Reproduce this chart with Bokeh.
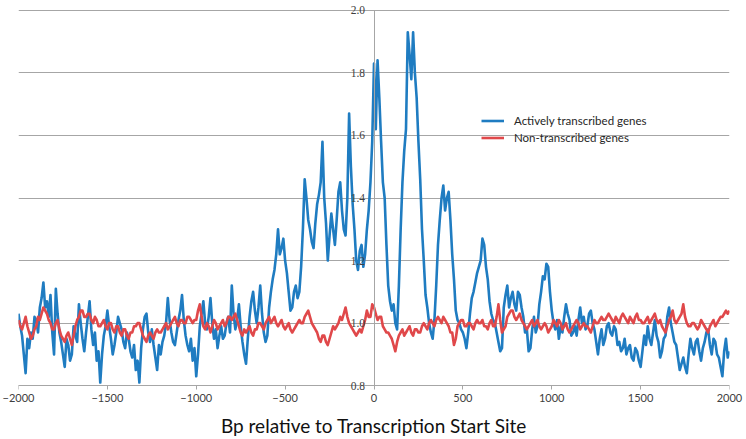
from bokeh.plotting import figure
from bokeh.models import Legend, LegendItem, Range1d, FixedTicker, LabelSet, ColumnDataSource, LinearAxis
from bokeh.embed import file_html
from bokeh.resources import INLINE

x_bp = list(range(-2000, 2001, 10))

active = [
    1.03, 0.99, 0.96, 0.90, 0.84, 0.95, 0.92, 0.97, 0.95, 1.02, 1.01, 0.97, 1.05, 1.08, 1.13, 1.05, 1.07, 1.02, 1.09, 0.97,
    0.90, 1.11, 1.03, 0.97, 0.94, 0.90, 0.86, 0.95, 0.93, 0.88, 0.90, 0.99, 0.96, 0.94, 1.06, 1.00, 0.95, 0.91, 0.97, 1.02,
    1.07, 0.98, 0.93, 0.97, 0.88, 0.91, 0.81, 0.90, 0.96, 0.99, 1.04, 0.99, 0.95, 0.90, 0.93, 0.97, 1.02, 1.00, 0.98, 0.94,
    0.92, 0.97, 0.95, 0.91, 0.89, 0.93, 0.85, 0.88, 0.81, 0.92, 0.98, 1.02, 1.03, 0.97, 0.94, 0.98, 0.93, 0.89, 0.85, 0.93,
    0.90, 0.94, 0.96, 1.00, 1.08, 1.01, 0.97, 0.94, 0.93, 0.97, 1.01, 1.04, 1.09, 1.01, 0.96, 0.93, 0.91, 0.95, 0.88, 0.92,
    0.83, 0.90, 0.99, 1.03, 1.07, 1.00, 0.98, 1.02, 1.08, 1.00, 0.95, 0.98, 0.92, 0.96, 0.99, 0.95, 0.96, 1.00, 1.02, 0.97,
    1.12, 1.03, 0.98, 1.01, 1.06, 0.99, 0.94, 0.90, 0.87, 0.95, 1.02, 1.07, 1.10, 1.04, 1.00, 1.05, 1.12, 1.03, 0.97, 0.94,
    0.96, 1.05, 1.10, 1.14, 1.17, 1.22, 1.30, 1.22, 1.24, 1.27, 1.20, 1.16, 1.10, 1.04, 1.05, 1.10, 1.12, 1.08, 1.10, 1.18,
    1.30, 1.46, 1.40, 1.33, 1.30, 1.26, 1.24, 1.32, 1.38, 1.41, 1.45, 1.58, 1.40, 1.32, 1.20, 1.28, 1.35, 1.30, 1.25, 1.33,
    1.42, 1.45, 1.36, 1.30, 1.28, 1.40, 1.67, 1.50, 1.38, 1.30, 1.20, 1.17, 1.23, 1.25, 1.18, 1.22, 1.30, 1.36, 1.45, 1.58,
    1.83, 1.62, 1.84, 1.72, 1.58, 1.45, 1.40, 1.25, 1.12, 1.07, 1.04, 1.06, 1.00, 0.98, 1.12, 1.30, 1.45, 1.55, 1.62, 1.93,
    1.86, 1.78, 1.93, 1.80, 1.72, 1.58, 1.46, 1.30, 1.20, 1.09, 1.05, 1.00, 0.97, 0.95, 1.01, 1.12, 1.25, 1.33, 1.40, 1.44,
    1.36, 1.40, 1.42, 1.33, 1.22, 1.14, 1.04, 1.01, 1.00, 0.98, 0.97, 0.95, 0.92, 0.97, 1.03, 1.08, 1.10, 1.13, 1.16, 1.18,
    1.20, 1.27, 1.25, 1.18, 1.14, 1.07, 1.03, 1.01, 1.00, 0.97, 0.94, 0.91, 0.92, 1.05, 1.09, 1.12, 1.05, 1.08, 1.10, 1.06,
    1.04, 1.10, 1.09, 1.05, 1.02, 0.97, 0.98, 0.91, 0.92, 0.98, 1.02, 0.97, 0.99, 1.06, 1.10, 1.15, 1.14, 1.19, 1.18, 1.10,
    1.04, 1.00, 0.98, 1.01, 0.95, 0.99, 0.97, 1.02, 1.06, 1.03, 1.01, 0.96, 0.97, 0.99, 0.96, 1.01, 1.05, 1.00, 1.02, 0.98,
    0.99, 1.03, 1.04, 1.00, 0.98, 0.94, 0.90, 0.95, 0.98, 0.93, 0.95, 0.99, 1.00, 0.97, 0.96, 0.99, 0.98, 0.93, 0.94, 0.91,
    0.92, 0.95, 0.90, 0.92, 0.93, 0.89, 0.88, 0.92, 0.91, 0.88, 0.86, 0.91, 0.96, 0.93, 0.99, 0.95, 0.93, 0.97, 1.01, 0.96,
    0.94, 0.89, 0.91, 0.95, 0.96, 1.02, 1.05, 1.00, 0.97, 0.94, 0.93, 0.89, 0.85, 0.87, 0.89, 0.86, 0.84, 0.90, 0.95, 0.92,
    0.90, 0.94, 0.95, 0.91, 0.88, 0.92, 0.94, 0.97, 0.98, 0.93, 0.90, 0.95, 0.94, 0.90, 0.89, 0.86, 0.83, 0.91, 0.95, 0.89,
    0.91,
]

non_transcribed = [
    1.01, 0.99, 0.98, 1.00, 1.02, 0.99, 0.97, 0.95, 0.96, 0.98, 0.99, 1.02, 1.01, 1.03, 1.05, 1.04, 1.03, 1.01, 1.00, 0.98,
    0.98, 1.00, 1.01, 0.98, 0.96, 0.95, 0.94, 0.96, 0.97, 0.95, 0.93, 0.96, 0.99, 1.01, 1.02, 1.04, 1.04, 1.02, 1.02, 1.03,
    1.03, 1.01, 1.00, 1.02, 1.01, 0.99, 0.99, 1.00, 1.01, 0.99, 0.98, 1.00, 1.00, 0.98, 0.97, 0.99, 0.99, 0.97, 0.96, 0.98,
    0.98, 0.96, 0.95, 0.97, 0.97, 0.99, 0.99, 1.00, 1.00, 0.98, 0.96, 0.95, 0.94, 0.96, 0.97, 0.96, 0.95, 0.97, 0.98, 0.97,
    0.97, 0.98, 0.99, 1.00, 0.98, 0.99, 1.00, 1.01, 1.02, 1.00, 0.99, 1.01, 1.01, 1.00, 1.00, 1.02, 1.02, 1.01, 1.00, 1.01,
    1.01, 1.04, 1.06, 1.02, 0.99, 0.98, 1.00, 0.99, 0.97, 0.99, 1.01, 1.00, 0.98, 0.99, 1.00, 1.01, 0.99, 1.00, 1.02, 1.02,
    1.01, 1.02, 1.03, 1.01, 0.99, 0.97, 0.96, 0.98, 0.97, 0.98, 0.99, 0.97, 0.96, 0.98, 0.98, 1.00, 1.00, 0.99, 0.98, 1.00,
    1.01, 1.02, 1.00, 1.01, 1.02, 1.00, 0.99, 1.00, 1.01, 0.99, 0.98, 0.99, 1.00, 0.98, 0.97, 0.98, 0.99, 1.00, 1.01, 1.00,
    1.00, 1.02, 1.03, 1.04, 1.02, 1.00, 0.99, 0.98, 0.97, 0.95, 0.94, 0.96, 0.96, 0.94, 0.93, 0.95, 0.97, 0.99, 0.98, 0.99,
    1.00, 1.02, 1.01, 1.03, 1.05, 1.02, 1.00, 0.99, 0.98, 0.97, 0.96, 0.97, 0.98, 0.97, 0.99, 1.01, 1.04, 1.02, 1.02, 1.06,
    1.05, 1.03, 1.01, 1.02, 1.02, 0.99, 0.98, 0.97, 0.97, 0.96, 0.95, 0.93, 0.91, 0.94, 0.96, 0.97, 0.98, 0.96, 0.97, 0.98,
    0.99, 0.97, 0.96, 0.98, 0.98, 0.97, 0.97, 0.99, 1.00, 0.99, 0.98, 1.00, 1.01, 1.00, 0.99, 1.01, 1.02, 1.01, 1.00, 1.02,
    1.01, 1.00, 0.99, 0.97, 0.97, 0.93, 0.95, 0.99, 1.00, 1.01, 1.01, 0.99, 0.99, 1.00, 1.00, 0.99, 0.98, 1.00, 1.01, 1.00,
    1.00, 1.01, 0.99, 0.99, 0.98, 1.00, 1.01, 0.99, 0.99, 1.02, 1.06, 1.01, 0.97, 0.98, 0.99, 1.02, 1.03, 1.04, 1.04, 1.02,
    1.01, 1.02, 1.03, 1.01, 1.00, 0.99, 0.98, 0.99, 1.00, 1.01, 0.99, 1.00, 1.01, 0.99, 0.98, 0.99, 1.00, 0.99, 0.97, 0.98,
    0.99, 1.01, 1.00, 0.99, 1.01, 1.00, 0.98, 0.99, 1.00, 0.98, 0.97, 0.98, 0.99, 1.00, 1.01, 1.00, 0.98, 0.99, 1.00, 0.99,
    0.99, 0.98, 0.97, 0.99, 1.01, 1.00, 1.00, 1.01, 1.02, 1.01, 1.01, 1.02, 1.03, 1.02, 1.01, 1.00, 1.02, 1.01, 1.00, 1.02,
    1.03, 1.02, 1.01, 1.00, 1.02, 1.01, 1.00, 1.02, 1.03, 1.01, 1.01, 1.00, 1.00, 1.01, 1.02, 1.00, 1.01, 1.02, 1.03, 1.01,
    1.00, 1.01, 0.99, 0.98, 0.97, 0.99, 1.01, 1.02, 1.04, 1.01, 1.00, 1.01, 1.02, 1.03, 1.06, 1.02, 1.00, 0.99, 0.99, 1.00,
    1.00, 0.99, 0.98, 0.99, 1.01, 1.00, 0.99, 0.98, 0.97, 0.99, 1.00, 1.01, 0.99, 1.00, 1.01, 1.02, 1.02, 1.03, 1.04, 1.03,
    1.04,
]

x_ticks = [-2000, -1500, -1000, -500, 0, 500, 1000, 1500, 2000]
y_ticks = [0.8, 1.0, 1.2, 1.4, 1.6, 1.8, 2.0]
y_tick_labels = ["0.8", "1.0", "1.2", "1.4", "1.6", "1.8", "2.0"]
series_names = ["Actively transcribed genes", "Non-transcribed genes"]
x_title = "Bp relative to Transcription Start Site"

BLUE = "#1f7cc1"
RED = "#e0484a"
GRID = "#a6a6a6"

# the frame reaches a little past 0.8 and 2.0 so that the end labels are not cut
p = figure(width=744, height=439, output_backend="svg", toolbar_location=None,
           x_range=Range1d(-2000, 2000), y_range=Range1d(0.775, 2.025),
           min_border_left=18, min_border_right=15, min_border_top=2, min_border_bottom=46)
p.outline_line_color = None
p.background_fill_color = "white"
p.border_fill_color = "white"

r1 = p.line(x_bp, active, line_color=BLUE, line_width=2.6, line_join="round")
r2 = p.line(x_bp, non_transcribed, line_color=RED, line_width=2.6, line_join="round")

# bottom axis: only labels and title (line and ticks are drawn by the axis at y = 0.8)
xa = p.xaxis[0]
xa.ticker = FixedTicker(ticks=x_ticks)
xa.minor_tick_line_color = None
xa.axis_line_color = None
xa.major_tick_line_color = None
xa.major_tick_in = 0
xa.major_tick_out = 0
xa.major_label_text_font = "Lato"
xa.major_label_text_font_size = "11px"
xa.major_label_text_color = "#404040"
xa.major_label_standoff = 0
xa.axis_label = x_title
xa.axis_label_text_font = "Lato"
xa.axis_label_text_font_size = "19px"
xa.axis_label_text_font_style = "normal"
xa.axis_label_text_color = "#111111"
xa.axis_label_standoff = 9

x_rule = LinearAxis(fixed_location=0.8, ticker=FixedTicker(ticks=x_ticks),
                    axis_line_color=GRID, major_tick_line_color=GRID,
                    major_tick_in=0, major_tick_out=4, minor_tick_line_color=None,
                    major_label_text_color=None, major_label_text_font_size="0px")
p.add_layout(x_rule, "below")

# y axis line placed at x = 0
ya = p.yaxis[0]
ya.fixed_location = 0
ya.bounds = (0.8, 2.0)
ya.ticker = FixedTicker(ticks=y_ticks)
ya.minor_tick_line_color = None
ya.major_tick_line_color = None
ya.major_tick_in = 0
ya.major_tick_out = 0
ya.axis_line_color = GRID
ya.major_label_text_color = None

ylab_src = ColumnDataSource(dict(x=[0] * len(y_ticks), y=y_ticks, text=y_tick_labels))
p.add_layout(LabelSet(x="x", y="y", text="text", source=ylab_src, x_offset=-9,
                      text_align="right", text_baseline="middle",
                      text_font="Lato", text_font_size="11.5px", text_color="#404040"))

p.xgrid.grid_line_color = None
p.ygrid.ticker = FixedTicker(ticks=y_ticks)
p.ygrid.grid_line_color = GRID
p.ygrid.grid_line_width = 1

legend = Legend(items=[LegendItem(label=series_names[0], renderers=[r1]),
                       LegendItem(label=series_names[1], renderers=[r2])],
                location=(463, 247), orientation="vertical",
                background_fill_alpha=0, border_line_color=None,
                padding=0, margin=0, spacing=0, label_standoff=10,
                glyph_width=23, glyph_height=17, label_height=17,
                label_text_font="Lato", label_text_font_size="11.5px",
                label_text_color="#262626")
p.add_layout(legend, "center")

open("out.html", "w").write(file_html(p, INLINE))
